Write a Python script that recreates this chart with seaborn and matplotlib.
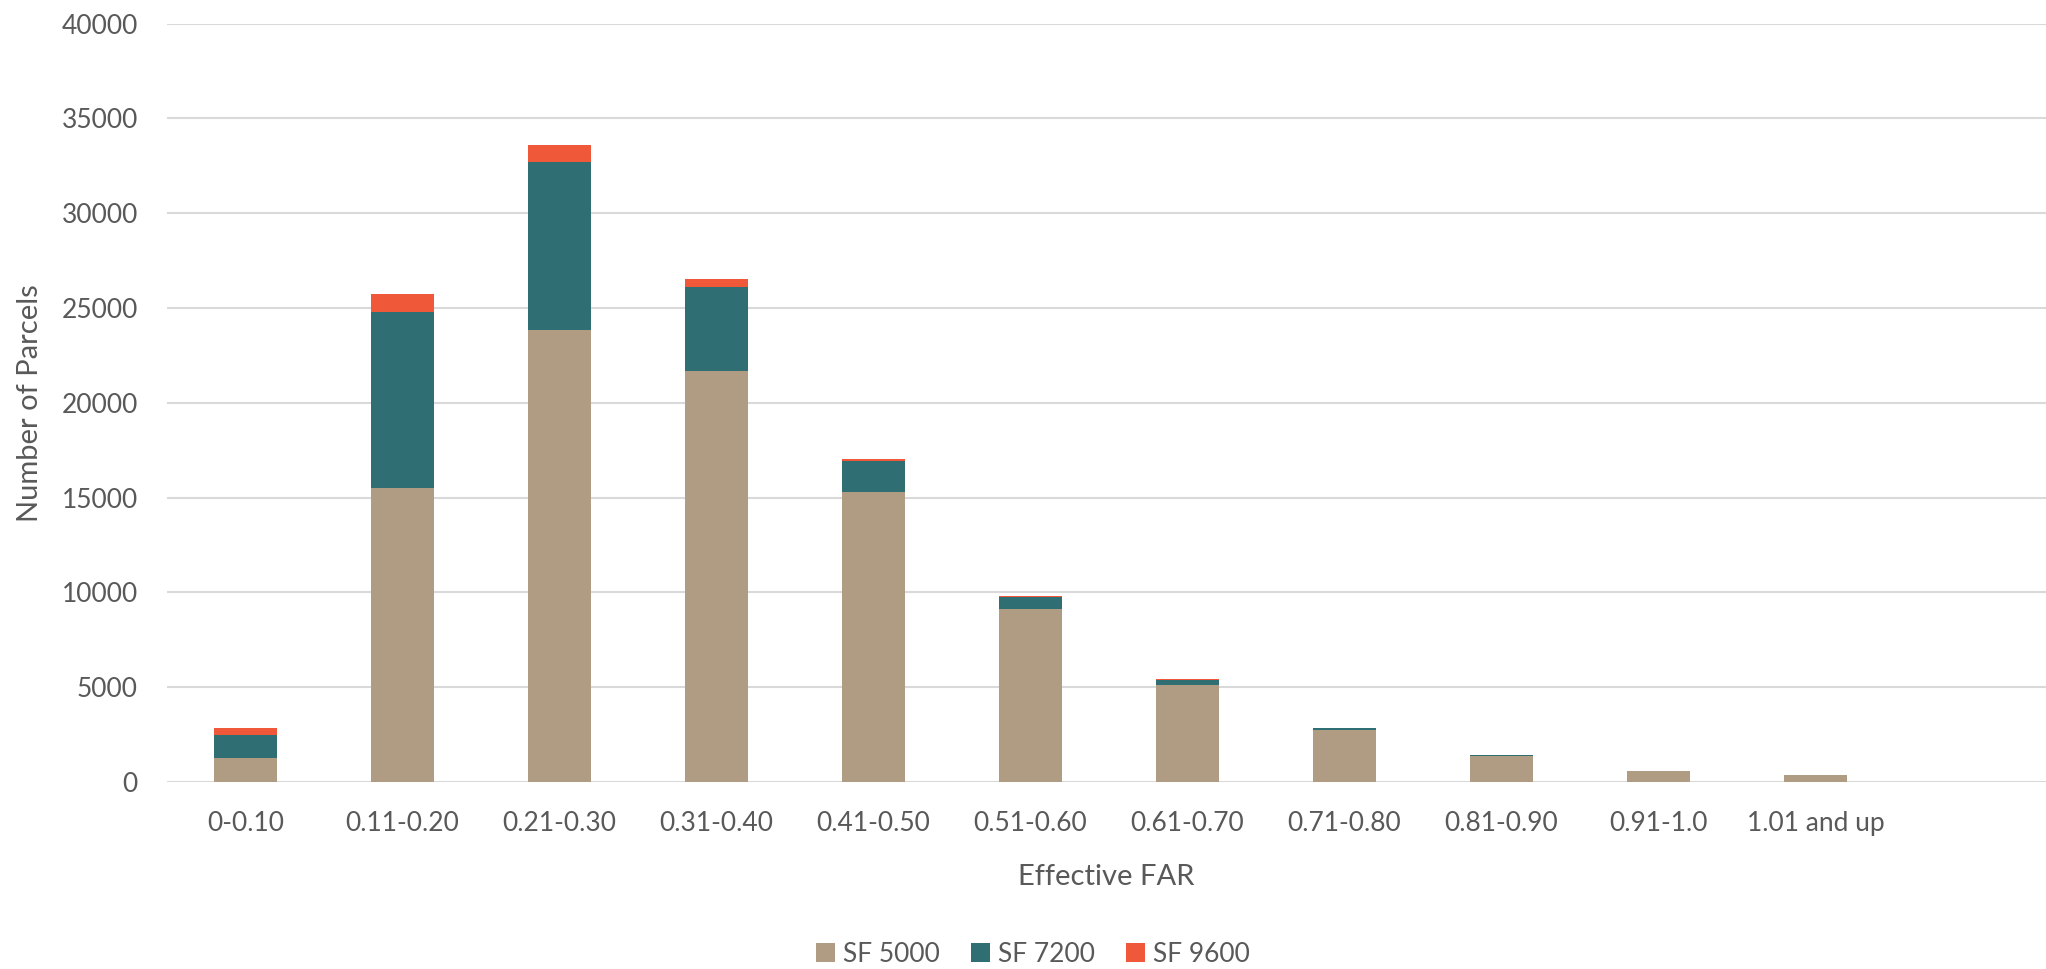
import matplotlib
matplotlib.use("Agg")
import matplotlib.pyplot as plt
import seaborn as sns
import pandas as pd
import numpy as np
from matplotlib.patches import Patch

categories = ["0-0.10", "0.11-0.20", "0.21-0.30", "0.31-0.40", "0.41-0.50",
              "0.51-0.60", "0.61-0.70", "0.71-0.80", "0.81-0.90", "0.91-1.0",
              "1.01 and up"]
sf5000 = [1260, 15500, 23860, 21670, 15300, 9140, 5140, 2760, 1390, 600, 370]
sf7200 = [1240, 9290, 8860, 4430, 1630, 640, 250, 70, 30, 0, 0]
sf9600 = [370, 944, 860, 400, 120, 50, 40, 20, 0, 0, 0]
series_names = ["SF 5000", "SF 7200", "SF 9600"]
colors = ["#B09C82", "#2F6E73", "#F0583A"]

sns.set_theme(style="white")
plt.rcParams['font.family'] = ['Lato', 'DejaVu Sans']
text_color = "#595959"

df = pd.DataFrame({"cat": categories, "s1": sf5000, "s2": sf7200, "s3": sf9600})
df["c1"] = df["s1"]
df["c2"] = df["s1"] + df["s2"]
df["c3"] = df["c2"] + df["s3"]

fig = plt.figure(figsize=(20.46, 9.69), dpi=100)
ax = fig.add_axes([167/2046, 1 - 782/969, (2046-167)/2046, (782-23.5)/969])

for col, color in zip(["c3", "c2", "c1"], colors[::-1]):
    sns.barplot(data=df, x="cat", y=col, color=color, width=0.395,
                saturation=1, ax=ax, linewidth=0, zorder=3)

ax.set_xlim(-0.5, -0.5 + (2046-167)/157.0)
ax.set_ylim(0, 40000)
ax.set_yticks(np.arange(0, 40001, 5000))
ax.yaxis.grid(True, color="#D9D9D9", linewidth=1.5, zorder=0)
ax.set_axisbelow(True)
for s in ["left", "right", "top", "bottom"]:
    ax.spines[s].set_visible(False)
ax.tick_params(axis="both", length=0, labelsize=19, colors=text_color)
ax.tick_params(axis="y", pad=21)
ax.tick_params(axis="x", pad=21)
ax.set_xlabel("Effective FAR", fontsize=21, color=text_color, labelpad=20)
ax.set_ylabel("Number of Parcels", fontsize=21, color=text_color, labelpad=13)

handles = [Patch(facecolor=c, edgecolor="none") for c in colors]
fig.legend(handles, series_names, loc="center", bbox_to_anchor=(1033/2046, 1 - 954/969),
           ncol=3, frameon=False, fontsize=19, labelcolor=text_color,
           handlelength=0.7, handleheight=0.7, handletextpad=0.3, columnspacing=1.2,
           borderpad=0, borderaxespad=0)

fig.savefig("out.png", dpi=100)
